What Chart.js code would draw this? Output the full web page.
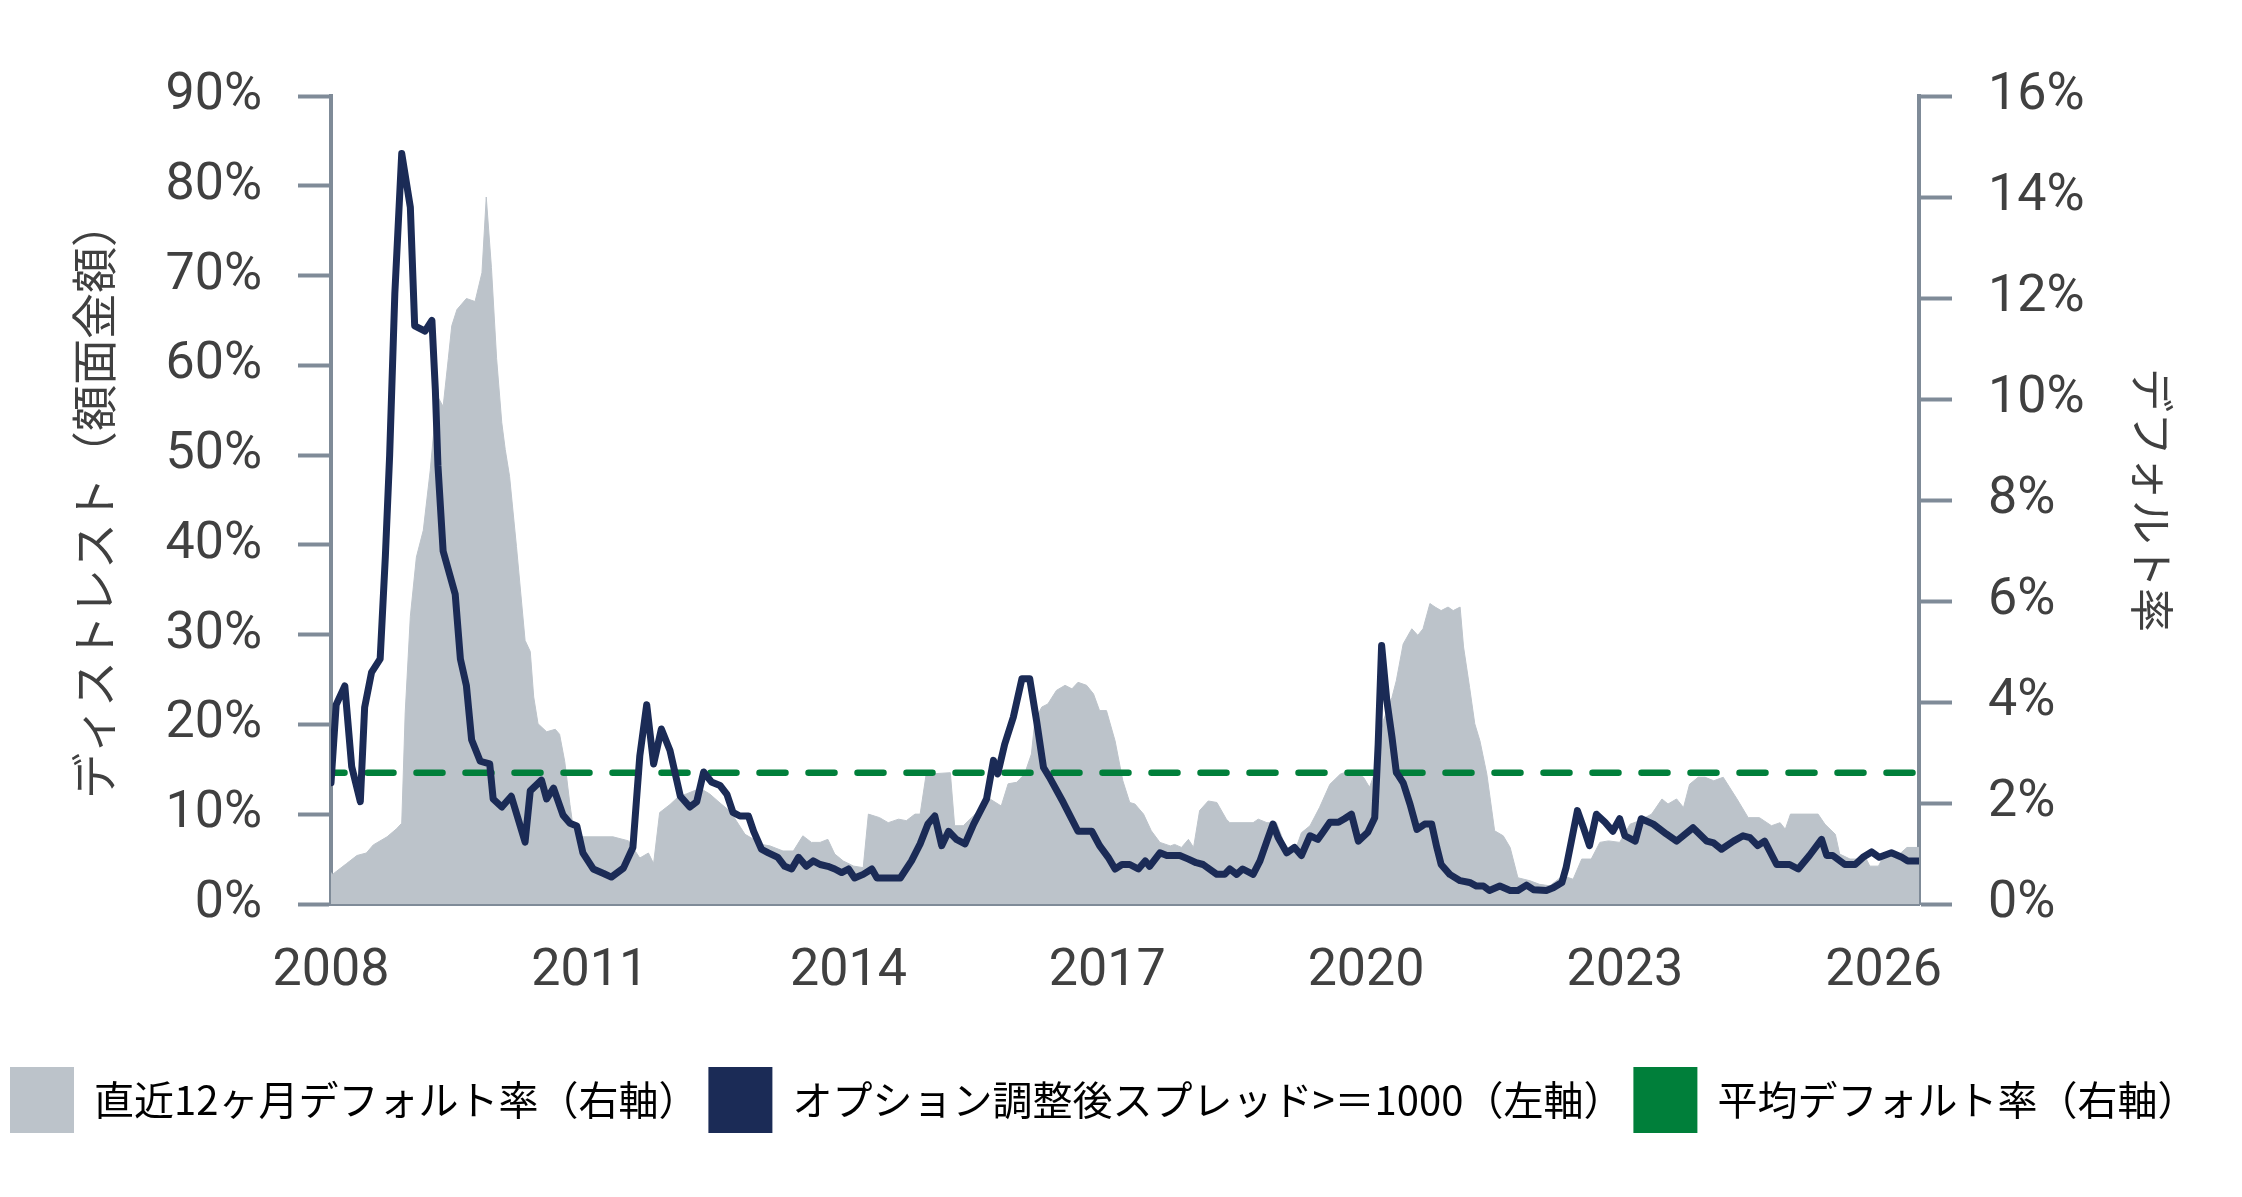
<!DOCTYPE html>
<html lang="ja">
<head>
<meta charset="utf-8">
<title>ディストレスト比率とデフォルト率</title>
<script src="https://cdn.jsdelivr.net/npm/chart.js@4.4.1/dist/chart.umd.min.js"></script>
<style>
  html, body { margin: 0; padding: 0; background: #ffffff; }
  #wrap { width: 2242px; height: 1197px; }
</style>
</head>
<body>
<div id="wrap"><canvas id="distressChart" width="2242" height="1197"></canvas></div>
<script>
// series names (legend order)
const seriesNames = [
    "直近12ヶ月デフォルト率（右軸）",
    "オプション調整後スプレッド>＝1000（左軸）",
    "平均デフォルト率（右軸）"
];
const leftTitle = "ディストレスト（額面金額）";
const rightTitle = "デフォルト率";

// tick values / labels
const xTickValues = [2008, 2011, 2014, 2017, 2020, 2023, 2026];
const xTickLabels = ["2008", "2011", "2014", "2017", "2020", "2023", "2026"];
const leftTickValues = [0, 10, 20, 30, 40, 50, 60, 70, 80, 90];
const leftTickLabels = ["0%", "10%", "20%", "30%", "40%", "50%", "60%", "70%", "80%", "90%"];
const rightTickValues = [0, 2, 4, 6, 8, 10, 12, 14, 16];
const rightTickLabels = ["0%", "2%", "4%", "6%", "8%", "10%", "12%", "14%", "16%"];

// trailing 12m default rate (right axis, %)
const defaultYears = [
    2008.00, 2008.02, 2008.18, 2008.30, 2008.41, 2008.49, 2008.65, 2008.76, 2008.82, 2008.86,
    2008.92, 2008.99, 2009.07, 2009.15, 2009.23, 2009.30, 2009.36, 2009.40, 2009.46, 2009.57,
    2009.67, 2009.75, 2009.80, 2009.86, 2009.92, 2009.98, 2010.02, 2010.07, 2010.15, 2010.25,
    2010.31, 2010.35, 2010.40, 2010.50, 2010.60, 2010.65, 2010.71, 2010.77, 2010.81, 2010.92,
    2011.27, 2011.45, 2011.58, 2011.68, 2011.74, 2011.81, 2011.93, 2012.03, 2012.12, 2012.28,
    2012.39, 2012.51, 2012.63, 2012.80, 2012.90, 2012.99, 2013.09, 2013.24, 2013.36, 2013.47,
    2013.57, 2013.67, 2013.76, 2013.84, 2013.94, 2014.06, 2014.17, 2014.23, 2014.36, 2014.46,
    2014.58, 2014.67, 2014.77, 2014.83, 2014.90, 2015.18, 2015.23, 2015.33, 2015.45, 2015.56,
    2015.64, 2015.77, 2015.85, 2015.95, 2016.04, 2016.12, 2016.16, 2016.24, 2016.31, 2016.41,
    2016.51, 2016.59, 2016.66, 2016.76, 2016.84, 2016.91, 2016.99, 2017.09, 2017.18, 2017.26,
    2017.32, 2017.42, 2017.51, 2017.61, 2017.73, 2017.78, 2017.86, 2017.94, 2018.00, 2018.07,
    2018.17, 2018.27, 2018.38, 2018.42, 2018.69, 2018.75, 2018.85, 2018.96, 2019.02, 2019.08,
    2019.19, 2019.25, 2019.35, 2019.46, 2019.58, 2019.70, 2019.81, 2019.97, 2020.04, 2020.12,
    2020.20, 2020.30, 2020.35, 2020.43, 2020.53, 2020.60, 2020.66, 2020.74, 2020.80, 2020.87,
    2020.95, 2021.01, 2021.09, 2021.13, 2021.20, 2021.26, 2021.32, 2021.40, 2021.49, 2021.59,
    2021.67, 2021.76, 2021.90, 2022.01, 2022.13, 2022.28, 2022.40, 2022.50, 2022.61, 2022.71,
    2022.81, 2022.94, 2023.06, 2023.17, 2023.31, 2023.43, 2023.50, 2023.60, 2023.68, 2023.75,
    2023.85, 2023.93, 2024.03, 2024.14, 2024.30, 2024.43, 2024.56, 2024.70, 2024.80, 2024.86,
    2024.92, 2025.24, 2025.32, 2025.44, 2025.49, 2025.61, 2025.80, 2025.84, 2025.94, 2026.00,
    2026.16, 2026.27, 2026.41
];
const defaultRates = [
    0.62, 0.59, 0.80, 0.96, 1.01, 1.17, 1.33, 1.49, 1.60, 3.78,
    5.70, 6.87, 7.40, 8.58, 10.07, 9.85, 10.80, 11.45, 11.77, 11.99,
    11.93, 12.50, 14.00, 12.60, 10.80, 9.53, 9.00, 8.47, 7.08, 5.22,
    5.00, 4.10, 3.57, 3.41, 3.46, 3.36, 2.82, 1.97, 1.49, 1.33,
    1.33, 1.25, 0.91, 1.01, 0.80, 1.81, 1.97, 2.13, 2.18, 2.29,
    2.18, 2.00, 1.83, 1.38, 1.28, 1.18, 1.15, 1.05, 1.05, 1.35,
    1.22, 1.22, 1.28, 0.99, 0.85, 0.75, 0.72, 1.78, 1.71, 1.61,
    1.68, 1.65, 1.78, 1.78, 2.57, 2.60, 1.55, 1.55, 1.75, 1.94,
    2.08, 1.94, 2.38, 2.41, 2.57, 2.97, 3.63, 3.90, 3.96, 4.23,
    4.33, 4.26, 4.39, 4.33, 4.16, 3.83, 3.83, 3.23, 2.44, 2.01,
    1.98, 1.78, 1.45, 1.22, 1.15, 1.18, 1.12, 1.28, 1.12, 1.85,
    2.04, 2.01, 1.68, 1.61, 1.61, 1.68, 1.61, 1.61, 1.35, 0.99,
    1.12, 1.41, 1.55, 1.91, 2.37, 2.57, 2.64, 2.51, 2.31, 2.70,
    3.63, 4.09, 4.42, 5.15, 5.45, 5.32, 5.45, 5.95, 5.88, 5.81,
    5.88, 5.81, 5.88, 5.09, 4.29, 3.57, 3.23, 2.57, 1.45, 1.35,
    1.12, 0.52, 0.46, 0.39, 0.36, 0.56, 0.49, 0.89, 0.89, 1.22,
    1.25, 1.22, 1.58, 1.65, 1.78, 2.08, 1.98, 2.08, 1.91, 2.37,
    2.51, 2.51, 2.44, 2.51, 2.08, 1.71, 1.71, 1.55, 1.61, 1.48,
    1.78, 1.78, 1.58, 1.38, 0.99, 0.89, 0.89, 0.75, 0.75, 0.95,
    0.95, 1.12, 1.12
];

// distressed share, OAS >= 1000 (left axis, %)
const spreadYears = [
    2008.00, 2008.06, 2008.16, 2008.24, 2008.34, 2008.39, 2008.47, 2008.57, 2008.63, 2008.68,
    2008.74, 2008.82, 2008.92, 2008.97, 2009.09, 2009.17, 2009.21, 2009.24, 2009.30, 2009.44,
    2009.50, 2009.57, 2009.63, 2009.73, 2009.84, 2009.88, 2009.98, 2010.09, 2010.25, 2010.31,
    2010.44, 2010.50, 2010.58, 2010.69, 2010.77, 2010.85, 2010.92, 2011.04, 2011.16, 2011.25,
    2011.39, 2011.50, 2011.58, 2011.66, 2011.74, 2011.83, 2011.93, 2012.05, 2012.16, 2012.24,
    2012.32, 2012.41, 2012.51, 2012.59, 2012.66, 2012.74, 2012.84, 2012.90, 2012.99, 2013.07,
    2013.18, 2013.26, 2013.34, 2013.42, 2013.51, 2013.59, 2013.67, 2013.76, 2013.84, 2013.92,
    2014.00, 2014.07, 2014.17, 2014.27, 2014.33, 2014.60, 2014.73, 2014.83, 2014.92, 2015.00,
    2015.08, 2015.16, 2015.25, 2015.35, 2015.45, 2015.60, 2015.68, 2015.73, 2015.81, 2015.91,
    2016.01, 2016.10, 2016.18, 2016.26, 2016.33, 2016.49, 2016.66, 2016.82, 2016.91, 2017.01,
    2017.09, 2017.17, 2017.26, 2017.36, 2017.44, 2017.49, 2017.61, 2017.69, 2017.84, 2017.94,
    2018.03, 2018.11, 2018.27, 2018.36, 2018.42, 2018.50, 2018.57, 2018.69, 2018.77, 2018.85,
    2018.92, 2018.98, 2019.08, 2019.17, 2019.25, 2019.35, 2019.44, 2019.50, 2019.58, 2019.68,
    2019.75, 2019.83, 2019.91, 2020.02, 2020.10, 2020.14, 2020.18, 2020.24, 2020.30, 2020.35,
    2020.43, 2020.51, 2020.59, 2020.68, 2020.76, 2020.82, 2020.87, 2020.97, 2021.09, 2021.20,
    2021.28, 2021.36, 2021.43, 2021.55, 2021.67, 2021.76, 2021.86, 2021.94, 2022.09, 2022.17,
    2022.27, 2022.32, 2022.38, 2022.45, 2022.52, 2022.59, 2022.67, 2022.77, 2022.86, 2022.94,
    2023.00, 2023.12, 2023.19, 2023.33, 2023.48, 2023.60, 2023.79, 2023.95, 2024.03, 2024.12,
    2024.26, 2024.37, 2024.45, 2024.54, 2024.62, 2024.76, 2024.91, 2025.01, 2025.14, 2025.28,
    2025.34, 2025.41, 2025.55, 2025.67, 2025.76, 2025.86, 2025.95, 2026.09, 2026.21, 2026.28,
    2026.41
];
const spreadValues = [
    13.5, 22.2, 24.3, 15.3, 11.4, 21.9, 25.8, 27.3, 38.7, 50.0,
    68.0, 83.6, 77.6, 64.4, 63.8, 65.0, 57.2, 48.8, 39.3, 34.5,
    27.3, 24.3, 18.3, 15.9, 15.6, 11.7, 10.8, 12.0, 6.9, 12.6,
    13.8, 11.7, 12.9, 9.9, 9.0, 8.7, 5.7, 3.9, 3.4, 3.0,
    4.0, 6.3, 16.5, 22.2, 15.6, 19.5, 17.1, 12.0, 10.8, 11.4,
    14.7, 13.6, 13.2, 12.2, 10.2, 9.8, 9.8, 8.1, 6.1, 5.7,
    5.2, 4.2, 3.9, 5.2, 4.2, 4.8, 4.4, 4.2, 3.9, 3.5,
    3.9, 2.9, 3.3, 3.9, 2.9, 2.9, 4.8, 6.7, 8.9, 9.8,
    6.5, 8.1, 7.2, 6.7, 8.9, 11.7, 16.0, 14.5, 17.8, 20.8,
    25.1, 25.1, 20.4, 15.2, 14.1, 11.3, 8.1, 8.1, 6.5, 5.2,
    3.9, 4.4, 4.4, 3.9, 4.8, 4.2, 5.7, 5.4, 5.4, 5.0,
    4.6, 4.4, 3.3, 3.3, 3.9, 3.3, 3.9, 3.3, 4.8, 7.0,
    8.9, 7.4, 5.7, 6.3, 5.4, 7.6, 7.2, 8.0, 9.1, 9.1,
    9.5, 10.0, 7.0, 8.0, 9.6, 17.8, 28.8, 22.7, 18.6, 14.7,
    13.5, 11.1, 8.3, 8.9, 8.9, 6.3, 4.4, 3.3, 2.6, 2.4,
    2.0, 2.0, 1.5, 2.0, 1.5, 1.5, 2.1, 1.6, 1.5, 1.8,
    2.4, 4.1, 7.0, 10.4, 8.5, 6.5, 10.0, 9.1, 8.1, 9.5,
    7.6, 7.0, 9.5, 8.9, 7.8, 7.0, 8.5, 7.0, 6.8, 6.1,
    7.0, 7.6, 7.4, 6.5, 7.0, 4.4, 4.4, 3.9, 5.4, 7.2,
    5.4, 5.4, 4.4, 4.4, 5.2, 5.8, 5.2, 5.7, 5.2, 4.8,
    4.8
];

// long-run average default rate (right axis, %)
const avgDefaultRate = 2.6;

const grayFill = "#bcc3ca";
const navy = "#1b2b56";
const green = "#007f3a";
const axisColor = "#7f8b98";
const textColor = "#404040";
const legendColors = [grayFill, navy, green];

const latinFont = "Roboto, 'Open Sans', sans-serif";
const cjkFont = "'Noto Sans CJK JP', 'Noto Sans', sans-serif";

const xStart = spreadYears[0];
const xEnd = spreadYears[spreadYears.length - 1];

function toPoints(xs, ys) {
    return xs.map((x, i) => ({ x: x, y: ys[i] }));
}

const ctx = document.getElementById("distressChart").getContext("2d");

const chart = new Chart(ctx, {
    type: "line",
    data: {
        datasets: [
            {
                label: seriesNames[0],
                data: toPoints(defaultYears, defaultRates),
                yAxisID: "y2",
                fill: "origin",
                backgroundColor: grayFill,
                borderColor: grayFill,
                borderWidth: 1,
                pointRadius: 0,
                tension: 0,
                order: 3
            },
            {
                label: seriesNames[1],
                data: toPoints(spreadYears, spreadValues),
                yAxisID: "y",
                fill: false,
                borderColor: navy,
                borderWidth: 7,
                borderJoinStyle: "round",
                borderCapStyle: "round",
                pointRadius: 0,
                tension: 0,
                order: 1
            },
            {
                label: seriesNames[2],
                data: [{ x: xStart, y: avgDefaultRate }, { x: xEnd, y: avgDefaultRate }],
                yAxisID: "y2",
                fill: false,
                borderColor: green,
                borderWidth: 6.5,
                borderDash: [26, 23],
                borderDashOffset: 12.5,
                borderCapStyle: "round",
                pointRadius: 0,
                order: 2
            }
        ]
    },
    options: {
        responsive: false,
        animation: false,
        events: [],
        layout: {
            padding: { top: 96, left: 0, right: 0, bottom: 54 }
        },
        plugins: {
            tooltip: { enabled: false },
            legend: {
                position: "bottom",
                align: "start",
                labels: {
                    boxWidth: 64,
                    boxHeight: 66,
                    padding: 10,
                    color: textColor,
                    font: { family: cjkFont, size: 40 },
                    generateLabels: (c) => c.data.datasets.map((ds, i) => ({
                        text: ds.label,
                        fillStyle: legendColors[i],
                        strokeStyle: legendColors[i],
                        lineWidth: 0,
                        hidden: false,
                        datasetIndex: i
                    }))
                }
            }
        },
        scales: {
            x: {
                type: "linear",
                min: xStart,
                max: xEnd,
                afterBuildTicks: (s) => { s.ticks = xTickValues.map(v => ({ value: v })); },
                afterFit: (s) => { s.height = 153; },
                ticks: {
                    callback: (v, i) => xTickLabels[i],
                    color: textColor,
                    font: { family: latinFont, size: 52 },
                    padding: 37,
                    maxRotation: 0,
                    autoSkip: false
                },
                grid: { display: true, drawOnChartArea: false, drawTicks: false },
                border: { display: true, color: axisColor, width: 4 }
            },
            y: {
                position: "left",
                min: 0,
                max: 90,
                afterBuildTicks: (s) => { s.ticks = leftTickValues.map(v => ({ value: v })); },
                afterFit: (s) => { s.width = 331; },
                ticks: {
                    callback: (v, i) => leftTickLabels[i],
                    color: textColor,
                    font: { family: latinFont, size: 52 },
                    padding: 36
                },
                grid: {
                    drawOnChartArea: false,
                    drawTicks: true,
                    tickLength: 33,
                    tickWidth: 4,
                    tickColor: axisColor
                },
                border: { display: true, color: axisColor, width: 4 },
                title: {
                    display: true,
                    text: leftTitle,
                    color: textColor,
                    font: { family: cjkFont, size: 46 },
                    padding: { top: 66, bottom: 0 }
                }
            },
            y2: {
                position: "right",
                min: 0,
                max: 16,
                afterBuildTicks: (s) => { s.ticks = rightTickValues.map(v => ({ value: v })); },
                afterFit: (s) => { s.width = 323; },
                ticks: {
                    callback: (v, i) => rightTickLabels[i],
                    color: textColor,
                    font: { family: latinFont, size: 52 },
                    padding: 36
                },
                grid: {
                    drawOnChartArea: false,
                    drawTicks: true,
                    tickLength: 33,
                    tickWidth: 4,
                    tickColor: axisColor
                },
                border: { display: true, color: axisColor, width: 4 },
                title: {
                    display: true,
                    text: rightTitle,
                    color: textColor,
                    font: { family: cjkFont, size: 44 },
                    padding: { top: 64, bottom: 0 }
                }
            }
        }
    }
});
</script>
</body>
</html>
